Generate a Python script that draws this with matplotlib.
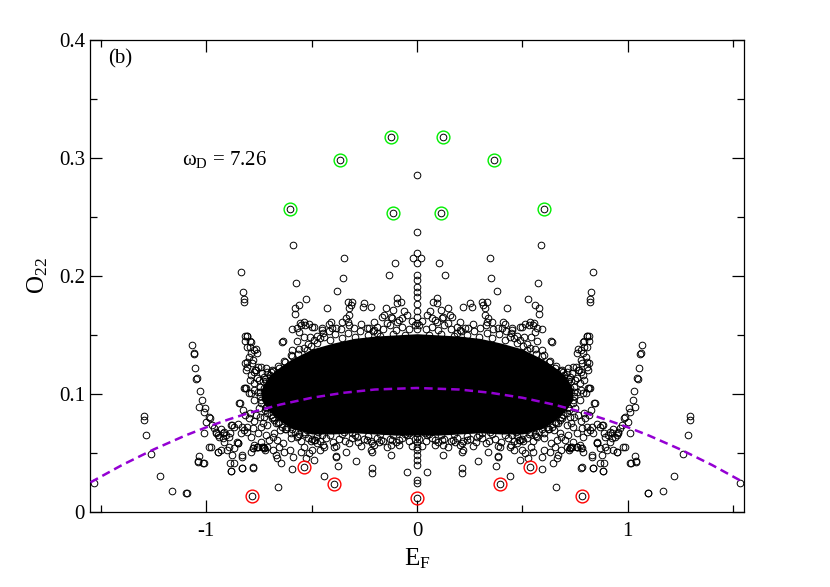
import matplotlib
matplotlib.use("Agg")
import matplotlib.pyplot as plt
import numpy as np
from matplotlib.ticker import MultipleLocator

plt.rcParams['font.family'] = ['Liberation Serif', 'DejaVu Serif']
plt.rcParams['mathtext.fontset'] = 'custom'
plt.rcParams['mathtext.rm'] = 'Liberation Serif'
plt.rcParams['mathtext.it'] = 'Liberation Serif:italic'
plt.rcParams['axes.unicode_minus'] = False

# --- data (right half, E_F >= 0; spectrum is symmetric) ---
pts_x = np.array([
    # x = 0 column
    0.0, 0.0, 0.0, 0.0, 0.0, 0.0, 0.0, 0.0, 0.0, 0.0, 0.0, 0.0, 0.0, 0.0,
    0.0, 0.0, 0.0, 0.0, 0.0, 0.0, 0.0, 0.0, 0.0, 0.0, 0.02,
    # upper outliers
    0.587, 0.576, 0.837, 0.825, 0.821, 0.821, 0.528, 0.560, 0.579, 0.579, 0.805,
    0.106, 0.346, 0.133, 0.350, 0.378, 0.093, 0.077, 0.093, 0.428,
    0.307, 0.330, 0.315, 0.323, 0.251, 0.259, 0.220, 0.149, 0.157, 0.112, 0.125, 0.165,
    0.323, 0.338, 0.354, 0.330, 0.409, 0.417, 0.402,
    0.489, 0.512, 0.536, 0.552, 0.568, 0.592, 0.560, 0.449, 0.642,
    0.062, 0.046, 0.117, 0.093, 0.070, 0.204, 0.228, 0.188,
    # wing near 1.0
    1.066, 1.061, 1.058, 1.052, 1.045, 1.048, 1.031, 1.023, 1.034, 1.007, 1.010,
    0.987, 0.982, 0.971, 0.963, 0.955, 0.947, 0.939, 0.923, 0.916, 0.947, 0.987,
    1.010, 1.014, 1.039, 1.036, 1.000, 0.930,
    # outer points
    1.295, 1.295, 1.287, 1.264, 1.220, 1.165, 1.097, 1.532,
    # below the core
    0.049, 0.125, 0.215, 0.215, 0.288, 0.376, 0.441, 0.383, 0.594, 0.659, 0.647,
    0.663, 0.778, 0.833, 0.889, 0.884, 1.010, 1.039, 1.094,
    0.038, 0.046, 0.125, 0.085, 0.117, 0.172, 0.180, 0.212, 0.220, 0.212, 0.236,
    0.283, 0.307, 0.346, 0.338, 0.394, 0.386, 0.441, 0.473, 0.497, 0.512, 0.489,
    0.528, 0.552, 0.591, 0.631, 0.670, 0.710, 0.726, 0.757, 0.781, 0.789, 0.829,
    0.852, 0.876, 0.900, 0.931, 0.947, 0.979, 0.829, 0.876, 0.916, 0.955,
])
pts_y = np.array([
    0.2856, 0.237, 0.219, 0.211, 0.2008, 0.1966, 0.191, 0.1867, 0.1825, 0.176,
    0.170, 0.165, 0.160, 0.155, 0.0667, 0.0638, 0.0596, 0.0553, 0.0525, 0.0483,
    0.044, 0.0398, 0.0271, 0.0243, 0.2155,
    0.226, 0.194, 0.203, 0.186, 0.180, 0.178, 0.180, 0.175, 0.1726, 0.1675, 0.149,
    0.211, 0.215, 0.2008, 0.198, 0.1873, 0.181, 0.178, 0.1774, 0.1726,
    0.178, 0.178, 0.175, 0.1726, 0.177, 0.174, 0.174, 0.1726, 0.167, 0.171, 0.1655, 0.1655,
    0.167, 0.164, 0.161, 0.161, 0.161, 0.159, 0.1557,
    0.157, 0.159, 0.161, 0.158, 0.1557, 0.1548, 0.1528, 0.154, 0.1443,
    0.170, 0.167, 0.164, 0.161, 0.164, 0.154, 0.1557, 0.1514,
    0.1415, 0.1345, 0.1335, 0.122, 0.1138, 0.1125, 0.1028, 0.0949, 0.0893, 0.0879, 0.085,
    0.0808, 0.0794, 0.0737, 0.0709, 0.068, 0.0653, 0.0638, 0.0624, 0.0596, 0.051, 0.0553,
    0.0667, 0.0412, 0.0424, 0.0475, 0.076, 0.070,
    0.0814, 0.078, 0.065, 0.0489, 0.0305, 0.0178, 0.0158, 0.0243,
    0.0336, 0.048, 0.037, 0.033, 0.043, 0.039, 0.0305, 0.047, 0.036, 0.021, 0.041,
    0.046, 0.0376, 0.037, 0.041, 0.035, 0.041, 0.043, 0.016,
    0.0667, 0.0653, 0.0568, 0.061, 0.061, 0.061, 0.0596, 0.0582, 0.0525, 0.0511, 0.061,
    0.0638, 0.0667, 0.068, 0.0511, 0.0553, 0.0469, 0.0553, 0.0582, 0.0525, 0.0497, 0.0441,
    0.0455, 0.0511, 0.0469, 0.0511, 0.0483, 0.0553, 0.054, 0.0553, 0.054, 0.0638, 0.0483,
    0.0582, 0.0483, 0.0525, 0.0525, 0.0511, 0.0553, 0.0723, 0.0737, 0.068, 0.0667,
])

# shoulder of the cloud (0.45 < E_F < 0.9)
shoulder_x = np.array([
    0.808, 0.789, 0.817, 0.794, 0.765, 0.789, 0.805, 0.777, 0.770, 0.813, 0.821,
    0.844, 0.817, 0.884, 0.868, 0.852, 0.908, 0.892, 0.923, 0.892, 0.868, 0.852,
    0.829, 0.868, 0.884, 0.833, 0.781, 0.734, 0.758, 0.777, 0.723,
    0.694, 0.718, 0.742, 0.765, 0.789, 0.726, 0.749, 0.773, 0.702, 0.678, 0.726,
    0.757, 0.789, 0.813, 0.710, 0.742, 0.773, 0.686, 0.718, 0.749, 0.663, 0.694,
    0.726, 0.765, 0.797, 0.670, 0.710, 0.742, 0.781, 0.821, 0.678, 0.718, 0.757,
    0.805, 0.836, 0.702, 0.742, 0.773, 0.663, 0.655, 0.789, 0.726,
    0.816, 0.792, 0.808, 0.776, 0.761, 0.800, 0.816, 0.784, 0.808, 0.776, 0.753,
    0.737, 0.713, 0.697, 0.761, 0.792, 0.729, 0.816, 0.800, 0.776, 0.745, 0.713,
    0.682, 0.658, 0.650, 0.682, 0.697, 0.721, 0.745, 0.776, 0.729, 0.689, 0.666,
    0.642, 0.618, 0.602, 0.618, 0.587, 0.555, 0.594, 0.634, 0.571, 0.539, 0.531,
    0.555, 0.500, 0.508, 0.476, 0.523, 0.492, 0.539, 0.508, 0.476, 0.555, 0.571,
    0.523, 0.492, 0.587, 0.618, 0.650, 0.682, 0.571, 0.523, 0.484, 0.460, 0.539,
    0.602, 0.634, 0.840, 0.824, 0.792, 0.887, 0.855, 0.808, 0.761, 0.729, 0.682,
    0.45, 0.50, 0.55, 0.60, 0.62, 0.58, 0.53, 0.47, 0.66, 0.64, 0.60, 0.65,
])
shoulder_y = np.array([
    0.1494, 0.1443, 0.1452, 0.140, 0.1379, 0.1345, 0.1274, 0.1288, 0.1203, 0.1203, 0.1048,
    0.092, 0.0822, 0.0737, 0.0723, 0.0746, 0.0653, 0.0638, 0.0667, 0.0553, 0.054, 0.0582,
    0.0469, 0.0412, 0.035, 0.037, 0.0379, 0.0553, 0.0553, 0.054, 0.0525,
    0.1189, 0.1218, 0.123, 0.1203, 0.1161, 0.1147, 0.1119, 0.109, 0.109, 0.1048, 0.1048,
    0.102, 0.1006, 0.1048, 0.0977, 0.0949, 0.0949, 0.0921, 0.0893, 0.0879, 0.0864, 0.0822,
    0.0808, 0.0822, 0.0794, 0.0751, 0.0737, 0.0723, 0.0709, 0.0695, 0.0667, 0.0653, 0.0667,
    0.0681, 0.0667, 0.061, 0.0596, 0.0568, 0.061, 0.0553, 0.0511, 0.0539,
    0.1492, 0.1444, 0.1401, 0.1373, 0.1345, 0.1316, 0.126, 0.126, 0.1232, 0.1189, 0.1232,
    0.1175, 0.1189, 0.1161, 0.1133, 0.1119, 0.1105, 0.1048, 0.1006, 0.1034, 0.102, 0.1062,
    0.1076, 0.1119, 0.1006, 0.0977, 0.0921, 0.0864, 0.0808, 0.0766, 0.0751, 0.0794, 0.0864,
    0.0893, 0.0949, 0.1034, 0.1147, 0.1203, 0.1288, 0.1373, 0.1444, 0.1444, 0.1486, 0.1585,
    0.160, 0.157, 0.1486, 0.143, 0.1373, 0.1316, 0.1232, 0.1147, 0.1062, 0.0977, 0.0864,
    0.0864, 0.078, 0.078, 0.0723, 0.0695, 0.0638, 0.0638, 0.0695, 0.061, 0.0525, 0.0553,
    0.0525, 0.0582, 0.0921, 0.0864, 0.0836, 0.0667, 0.0596, 0.0723, 0.0553, 0.0553, 0.0525,
    0.065, 0.062, 0.060, 0.063, 0.070, 0.068, 0.066, 0.068, 0.075, 0.082, 0.078, 0.090,
])

# circles along the rim of the dense core
rim_x = np.array([
    0.01, 0.04, 0.07, 0.10, 0.13, 0.16, 0.19, 0.21, 0.24, 0.27, 0.30, 0.33, 0.36,
    0.39, 0.42, 0.44, 0.46, 0.49, 0.45, 0.52, 0.56, 0.60, 0.63, 0.66, 0.69, 0.72,
    0.01, 0.04, 0.07, 0.10, 0.13, 0.16, 0.19, 0.22, 0.25, 0.28, 0.31, 0.34, 0.37,
    0.40, 0.43, 0.46, 0.49, 0.52, 0.56, 0.60, 0.64, 0.68, 0.71, 0.74,
    0.025, 0.055, 0.085, 0.115, 0.145, 0.175, 0.205, 0.235, 0.265, 0.295, 0.325,
    0.355, 0.385, 0.415, 0.445, 0.475, 0.505, 0.535, 0.565, 0.595, 0.625, 0.655,
    0.685, 0.715, 0.745,
    0.025, 0.055, 0.085, 0.115, 0.145, 0.175, 0.205, 0.235, 0.265, 0.295, 0.325,
    0.355, 0.385, 0.415, 0.445, 0.475, 0.505, 0.535, 0.565, 0.595, 0.625, 0.655,
    0.685, 0.715, 0.745,
])
rim_y = np.array([
    0.158, 0.155, 0.157, 0.154, 0.158, 0.155, 0.157, 0.153, 0.156, 0.153, 0.156, 0.152, 0.155,
    0.151, 0.153, 0.148, 0.147, 0.146, 0.156, 0.142, 0.138, 0.133, 0.128, 0.124, 0.120, 0.113,
    0.062, 0.060, 0.063, 0.059, 0.062, 0.060, 0.063, 0.060, 0.062, 0.059, 0.063, 0.060, 0.062,
    0.059, 0.063, 0.060, 0.061, 0.063, 0.066, 0.067, 0.072, 0.078, 0.084, 0.092,
    0.162, 0.150, 0.163, 0.151, 0.160, 0.149, 0.161, 0.150, 0.159, 0.148, 0.158,
    0.147, 0.156, 0.146, 0.152, 0.149, 0.141, 0.139, 0.134, 0.132, 0.127, 0.122,
    0.119, 0.111, 0.106,
    0.056, 0.066, 0.057, 0.065, 0.055, 0.066, 0.057, 0.064, 0.056, 0.065, 0.058,
    0.066, 0.056, 0.065, 0.057, 0.064, 0.060, 0.068, 0.064, 0.070, 0.070, 0.076,
    0.080, 0.088, 0.098,
])

# dense core envelope (right half)
core_x = np.array([0.00, 0.10, 0.20, 0.30, 0.40, 0.50, 0.60, 0.65, 0.70, 0.74])
core_hi = np.array([0.151, 0.150, 0.149, 0.147, 0.143, 0.138, 0.129, 0.123, 0.116, 0.104])
core_lo = np.array([0.065, 0.065, 0.066, 0.067, 0.066, 0.066, 0.071, 0.077, 0.085, 0.095])

green_x = [-0.604, -0.367, -0.122, -0.115, 0.115, 0.122, 0.367, 0.604]
green_y = [0.2565, 0.298, 0.318, 0.253, 0.253, 0.318, 0.298, 0.2565]
red_x = [-0.783, -0.538, -0.394, 0.0, 0.394, 0.538, 0.783]
red_y = [0.0138, 0.038, 0.0235, 0.0118, 0.0235, 0.038, 0.0138]

curve_x = [-1.55, -1.4, -1.25, -1.1, -1.0, -0.9, -0.8, -0.65, -0.5, -0.35, -0.2, 0.0,
           0.2, 0.35, 0.5, 0.65, 0.8, 0.9, 1.0, 1.1, 1.25, 1.4, 1.55]
curve_y = [0.025, 0.0397, 0.0529, 0.0647, 0.0717, 0.078, 0.0837, 0.0909, 0.0967, 0.1009,
           0.1037, 0.105, 0.1037, 0.1009, 0.0967, 0.0909, 0.0837, 0.078, 0.0717, 0.0647,
           0.0529, 0.0397, 0.025]

# mirror the half spectrum
half_x = np.concatenate([pts_x, shoulder_x, rim_x])
half_y = np.concatenate([pts_y, shoulder_y, rim_y])
pos = half_x > 0
all_x = np.concatenate([half_x, -half_x[pos]])
all_y = np.concatenate([half_y, half_y[pos]])
cx = np.concatenate([-core_x[::-1], core_x[1:]])
chi = np.concatenate([core_hi[::-1], core_hi[1:]])
clo = np.concatenate([core_lo[::-1], core_lo[1:]])

fig = plt.figure(figsize=(8.3, 5.87), dpi=100)
ax = fig.add_axes([0.109, 0.128, 0.787, 0.804])

ax.fill_between(cx, clo, chi, color='black', lw=0, zorder=2)
ax.plot(all_x, all_y, ls='none', marker='o', ms=4.8, mfc='none', mec='black', mew=0.7, zorder=3)
ax.plot(green_x, green_y, ls='none', marker='o', ms=4.8, mfc='none', mec='black', mew=0.7, zorder=3)
ax.plot(red_x, red_y, ls='none', marker='o', ms=4.8, mfc='none', mec='black', mew=0.7, zorder=3)
ax.plot(green_x, green_y, ls='none', marker='o', ms=9.2, mfc='none', mec='#00ee00', mew=1.0, zorder=4)
ax.plot(red_x, red_y, ls='none', marker='o', ms=9.2, mfc='none', mec='red', mew=1.0, zorder=4)
ax.plot(curve_x, curve_y, color='#9400d3', lw=1.8, dashes=(3.4, 2.0), zorder=5)

ax.set_xlim(-1.55, 1.55)
ax.set_ylim(0, 0.4)
ax.xaxis.set_minor_locator(MultipleLocator(0.5))
ax.yaxis.set_minor_locator(MultipleLocator(0.05))
ax.set_yticks([0, 0.1, 0.2, 0.3, 0.4])
ax.set_yticklabels(['0', '0.1', '0.2', '0.3', '0.4'])
ax.set_xticks([-1, 0, 1])
ax.set_xticklabels(['-1', '0', '1'])
ax.tick_params(which='both', direction='in', top=True, right=True, width=0.9)
ax.tick_params(which='major', length=8.4, labelsize=15)
ax.tick_params(axis='x', which='major', pad=7)
ax.tick_params(axis='y', which='major', pad=4)
ax.tick_params(which='minor', length=4.8)
for s in ax.spines.values():
    s.set_linewidth(0.9)

ax.set_xlabel(r'E$_{\mathrm{F}}$', fontsize=18, labelpad=4)
ax.set_ylabel(r'O$_{\mathrm{22}}$', fontsize=18, labelpad=6)

ax.text(-1.466, 0.384, '(b)', fontsize=15, ha='left', va='center')
ax.text(-1.116, 0.294, r'ω$_{\mathrm{D}}$ = 7.26', fontsize=15, ha='left', va='baseline')

fig.savefig('out.png', dpi=100)
